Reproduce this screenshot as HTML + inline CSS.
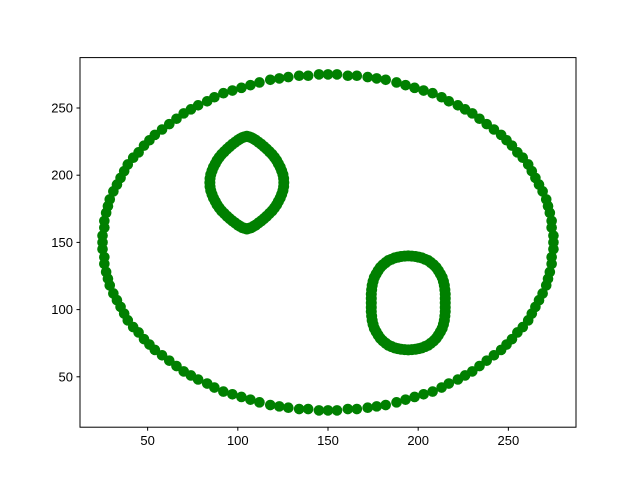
<!DOCTYPE html>
<html><head><meta charset="utf-8"><style>
html,body{margin:0;padding:0;background:#fff;}
svg{display:block;font-family:"Liberation Sans","DejaVu Sans",sans-serif;}
</style></head><body>
<svg id="chart" width="640" height="480" viewBox="0 0 640 480" xmlns="http://www.w3.org/2000/svg">
<rect x="0" y="0" width="640" height="480" fill="#fff"/>
<g id="marks"></g>
<rect x="80" y="57.6" width="496" height="369.6" fill="none" stroke="#000" stroke-width="1"/>
<g id="xaxis"></g>
<g id="yaxis"></g>
</svg>
<script>
const outerRing = [[275,150],[275,155],[274,161],[274,166],[273,172],[272,177],[271,182],[269,188],[267,193],[265,198],[263,203],[261,208],[258,213],[255,217],[252,222],[249,226],[246,230],[242,234],[238,238],[234,242],[230,246],[226,249],[222,252],[217,255],[213,258],[208,261],[203,263],[198,265],[193,267],[188,269],[182,271],[177,272],[172,273],[166,274],[161,274],[155,275],
[150,275],[145,275],[139,274],[134,274],[128,273],[123,272],[118,271],[112,269],[107,267],[102,265],[97,263],[92,261],[87,258],[83,255],[78,252],[74,249],[70,246],[66,242],[62,238],[58,234],[54,230],[51,226],[48,222],[45,217],[42,213],[39,208],[37,203],[35,198],[33,193],[31,188],[29,182],[28,177],[27,172],[26,166],[26,161],[25,155],
[25,150],[25,145],[26,139],[26,134],[27,128],[28,123],[29,118],[31,112],[33,107],[35,102],[37,97],[39,92],[42,87],[45,83],[48,78],[51,74],[54,70],[58,66],[62,62],[66,58],[70,54],[74,51],[78,48],[83,45],[87,42],[92,39],[97,37],[102,35],[107,33],[112,31],[118,29],[123,28],[128,27],[134,26],[139,26],[145,25],
[150,25],[155,25],[161,26],[166,26],[172,27],[177,28],[182,29],[188,31],[193,33],[198,35],[203,37],[208,39],[213,42],[217,45],[222,48],[226,51],[230,54],[234,58],[238,62],[242,66],[246,70],[249,74],[252,78],[255,83],[258,87],[261,92],[263,97],[265,102],[267,107],[269,112],[271,118],[272,123],[273,128],[274,134],[274,139],[275,145]];
const upperLeftRing = [[125.5,194.5],[125.4,197.5],[125,200.5],[124.3,203.3],[123.5,206],[122.5,208.5],[121.5,211],[120.3,213.3],[119,215.5],[117.5,217.5],[116,219.5],[114.5,221.3],[113,223],[111.5,224.5],[110,226],[108.8,227],[107.5,228],[106.3,228.5],
[105,229],[103.7,228.5],[102.5,228],[101.2,227],[100,226],[98.5,224.5],[97,223],[95.5,221.3],[94,219.5],[92.5,217.5],[91,215.5],[89.7,213.3],[88.5,211],[87.5,208.5],[86.5,206],[85.7,203.3],[85,200.5],[84.6,197.5],
[84.5,194.5],[84.6,191.5],[85,188.5],[85.7,185.7],[86.5,183],[87.5,180.5],[88.5,178],[89.7,175.7],[91,173.5],[92.5,171.5],[94,169.5],[95.5,167.7],[97,166],[98.5,164.5],[100,163],[101.2,162],[102.5,161],[103.7,160.5],
[105,160],[106.3,160.5],[107.5,161],[108.8,162],[110,163],[111.5,164.5],[113,166],[114.5,167.7],[116,169.5],[117.5,171.5],[119,173.5],[120.3,175.7],[121.5,178],[122.5,180.5],[123.5,183],[124.3,185.7],[125,188.5],[125.4,191.5]];
const lowerRightRing = [[215,105],[215,108.3],[215,111.5],[214.8,114.8],[214.5,118],[214,121],[213.3,124],[212.3,126.5],[211.2,129],[210,131.3],[208.6,133.3],[207,135],[205.5,136.5],[203.8,137.5],[202,138.5],[200.3,139],[198.5,139.5],[196.5,139.8],
[194.5,140],[192.5,139.8],[190.5,139.5],[188.7,139],[187,138.5],[185.2,137.5],[183.5,136.5],[182,135],[180.4,133.3],[179,131.3],[177.8,129],[176.7,126.5],[175.7,124],[175,121],[174.5,118],[174.2,114.8],[174,111.5],[174,108.3],
[174,105],[174,101.7],[174,98.5],[174.2,95.2],[174.5,92],[175,89],[175.7,86],[176.7,83.5],[177.8,81],[179,78.7],[180.4,76.7],[182,75],[183.5,73.5],[185.2,72.5],[187,71.5],[188.7,71],[190.5,70.5],[192.5,70.2],
[194.5,70],[196.5,70.2],[198.5,70.5],[200.3,71],[202,71.5],[203.8,72.5],[205.5,73.5],[207,75],[208.6,76.7],[210,78.7],[211.2,81],[212.3,83.5],[213.3,86],[214,89],[214.5,92],[214.8,95.2],[215,98.5],[215,101.7]];
const xTicks = [50,100,150,200,250];
const yTicks = [50,100,150,200,250];
const xDomain = [12.5,287.5];
const yDomain = [12.5,287.5];

const NS = "http://www.w3.org/2000/svg";
const L=80,R=576,T=57.6,B=427.2;
function sx(v){return L+(v-xDomain[0])/(xDomain[1]-xDomain[0])*(R-L);}
function sy(v){return B-(v-yDomain[0])/(yDomain[1]-yDomain[0])*(B-T);}
const marks=document.getElementById('marks');
function drawSeries(pts,name,r){
  pts.forEach(p=>{
    const c=document.createElementNS(NS,'circle');
    c.setAttribute('cx',sx(p[0]));c.setAttribute('cy',sy(p[1]));
    c.setAttribute('r',r);c.setAttribute('fill','#008000');
    
    
    marks.appendChild(c);
  });
}
drawSeries(outerRing,'outer-ring-point',5.3);
drawSeries(upperLeftRing,'upper-left-ring-point',5.5);
drawSeries(lowerRightRing,'lower-right-ring-point',5.5);
const xa=document.getElementById('xaxis'), ya=document.getElementById('yaxis');
xTicks.forEach(t=>{
  const x=sx(t);
  const ln=document.createElementNS(NS,'line');
  ln.setAttribute('x1',x);ln.setAttribute('x2',x);ln.setAttribute('y1',B);ln.setAttribute('y2',B+3.5);ln.setAttribute('stroke','#000');
  
  
  xa.appendChild(ln);
  const tx=document.createElementNS(NS,'text');
  tx.setAttribute('x',x);tx.setAttribute('y',B+18);tx.setAttribute('text-anchor','middle');tx.setAttribute('font-size','13');
  tx.textContent=t;
  
  
  xa.appendChild(tx);
});
yTicks.forEach(t=>{
  const y=sy(t);
  const ln=document.createElementNS(NS,'line');
  ln.setAttribute('x1',L-3.5);ln.setAttribute('x2',L);ln.setAttribute('y1',y);ln.setAttribute('y2',y);ln.setAttribute('stroke','#000');
  
  
  ya.appendChild(ln);
  const tx=document.createElementNS(NS,'text');
  tx.setAttribute('x',L-7);tx.setAttribute('y',y+4.5);tx.setAttribute('text-anchor','end');tx.setAttribute('font-size','13');
  tx.textContent=t;
  
  
  ya.appendChild(tx);
});
</script>
</body></html>
